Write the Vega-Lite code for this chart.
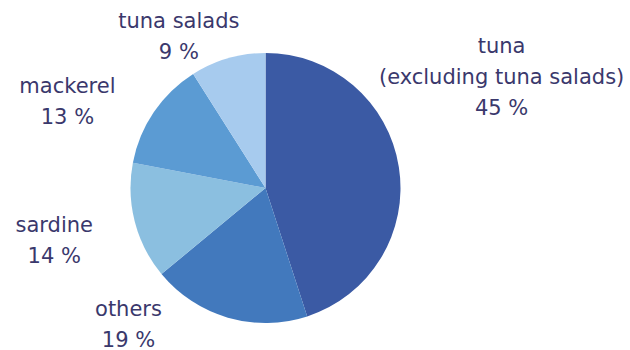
{
  "$schema": "https://vega.github.io/schema/vega-lite/v6.json",
  "width": 531,
  "height": 324,
  "autosize": {"type": "none"},
  "padding": {"left": 0, "top": 26, "right": 99, "bottom": 0},
  "background": "#ffffff",
  "data": {
    "values": [
      {"cat": "tuna", "label": "tuna\n(excluding tuna salads)\n45 %", "pct": 45, "rank": 1},
      {"cat": "others", "label": "others\n19 %", "pct": 19, "rank": 2},
      {"cat": "sardine", "label": "sardine\n14 %", "pct": 14, "rank": 3},
      {"cat": "mackerel", "label": "mackerel\n13 %", "pct": 13, "rank": 4},
      {"cat": "tuna salads", "label": "tuna salads\n9 %", "pct": 9, "rank": 5}
    ]
  },
  "encoding": {
    "theta": {"field": "pct", "type": "quantitative", "stack": true},
    "order": {"field": "rank", "type": "quantitative"}
  },
  "layer": [
    {
      "mark": {"type": "arc", "outerRadius": 135},
      "encoding": {
        "color": {
          "field": "cat",
          "type": "nominal",
          "legend": null,
          "scale": {
            "domain": ["tuna", "others", "sardine", "mackerel", "tuna salads"],
            "range": ["#3b5aa4", "#4279bd", "#8bbfe0", "#5b9bd3", "#a7cbee"]
          }
        }
      }
    },
    {
      "mark": {"type": "text", "radius": 235, "dx": 4, "dy": -98, "font": "DejaVu Sans", "fontSize": 21, "lineBreak": "\n", "lineHeight": 31, "align": "center", "baseline": "alphabetic", "color": "#3a386c"},
      "encoding": {
        "detail": {"field": "cat", "type": "nominal"},
        "text": {"condition": {"test": "datum.cat === 'tuna'", "field": "label", "type": "nominal"}, "value": ""}
      }
    },
    {
      "mark": {"type": "text", "radius": 165, "dx": -91, "dy": -30, "font": "DejaVu Sans", "fontSize": 21, "lineBreak": "\n", "lineHeight": 31, "align": "center", "baseline": "alphabetic", "color": "#3a386c"},
      "encoding": {
        "detail": {"field": "cat", "type": "nominal"},
        "text": {"condition": {"test": "datum.cat === 'others'", "field": "label", "type": "nominal"}, "value": ""}
      }
    },
    {
      "mark": {"type": "text", "radius": 215, "dx": -3, "dy": -9, "font": "DejaVu Sans", "fontSize": 21, "lineBreak": "\n", "lineHeight": 31, "align": "center", "baseline": "alphabetic", "color": "#3a386c"},
      "encoding": {
        "detail": {"field": "cat", "type": "nominal"},
        "text": {"condition": {"test": "datum.cat === 'sardine'", "field": "label", "type": "nominal"}, "value": ""}
      }
    },
    {
      "mark": {"type": "text", "radius": 225, "dx": -12, "dy": 31, "font": "DejaVu Sans", "fontSize": 21, "lineBreak": "\n", "lineHeight": 31, "align": "center", "baseline": "alphabetic", "color": "#3a386c"},
      "encoding": {
        "detail": {"field": "cat", "type": "nominal"},
        "text": {"condition": {"test": "datum.cat === 'mackerel'", "field": "label", "type": "nominal"}, "value": ""}
      }
    },
    {
      "mark": {"type": "text", "radius": 178, "dx": -37, "dy": 11, "font": "DejaVu Sans", "fontSize": 21, "lineBreak": "\n", "lineHeight": 31, "align": "center", "baseline": "alphabetic", "color": "#3a386c"},
      "encoding": {
        "detail": {"field": "cat", "type": "nominal"},
        "text": {"condition": {"test": "datum.cat === 'tuna salads'", "field": "label", "type": "nominal"}, "value": ""}
      }
    }
  ],
  "config": {"view": {"stroke": null}}
}
